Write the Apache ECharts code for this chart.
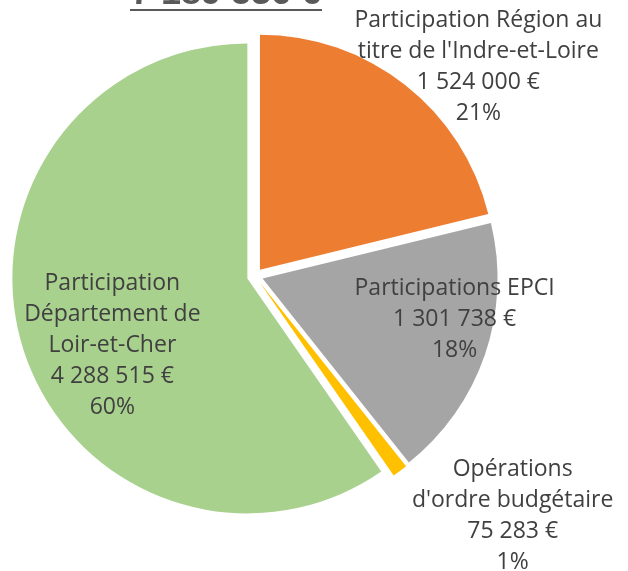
<!DOCTYPE html>
<html>
<head>
<meta charset="utf-8">
<script src="https://cdn.jsdelivr.net/npm/echarts@6/dist/echarts.min.js"></script>
<style>
  html, body { margin: 0; padding: 0; background: #ffffff; }
  #chart { width: 628px; height: 571px; }
</style>
</head>
<body>
<div id="chart"></div>
<script>
// funding sources (clockwise from 12 o'clock)
const names = [
  "Participation Région au\ntitre de l'Indre-et-Loire",
  "Participations EPCI",
  "Opérations\nd'ordre budgétaire",
  "Participation\nDépartement de\nLoir-et-Cher"
];
const amounts = [1524000, 1301738, 75283, 4288515];
const colors = ["#ED7D31", "#A5A5A5", "#FFC000", "#A9D18E"];
const totalLabel = "7 189 536 €";

// label nudges from the default "inside" spot
const labelShift = [[144, -108], [78, 2], [181, 137], [-20, 31]];

const fmt = (v) => String(v).replace(/\B(?=(\d{3})+(?!\d))/g, " ");

const chart = echarts.init(document.getElementById("chart"));

chart.setOption({
  animation: false,
  backgroundColor: "#ffffff",
  graphic: [
    {
      type: "text",
      style: {
        text: totalLabel,
        x: 226,
        y: 12,
        align: "center",
        verticalAlign: "bottom",
        font: "bold 36px 'Liberation Sans', Arial, sans-serif",
        fill: "#595959"
      }
    },
    {
      type: "rect",
      shape: { x: 130, y: 9, width: 192, height: 2 },
      style: { fill: "#595959" }
    }
  ],
  series: [
    {
      type: "pie",
      center: [255, 276],
      radius: 235,
      startAngle: 90,
      clockwise: true,
      percentPrecision: 0,
      selectedMode: "multiple",
      selectedOffset: 8,
      emphasis: { disabled: true },
      label: {
        show: true,
        position: "inside",
        color: "#404040",
        fontFamily: "'Open Sans', sans-serif",
        fontSize: 23,
        lineHeight: 31,
        align: "center",
        formatter: (p) => p.name + "\n" + fmt(p.value) + " €\n" + p.percent + "%"
      },
      labelLayout: (p) => ({
        dx: labelShift[p.dataIndex][0],
        dy: labelShift[p.dataIndex][1]
      }),
      data: names.map((n, i) => ({
        name: n,
        value: amounts[i],
        selected: true,
        itemStyle: { color: colors[i] },
        select: { itemStyle: { color: colors[i] } }
      }))
    }
  ]
});
</script>
</body>
</html>
